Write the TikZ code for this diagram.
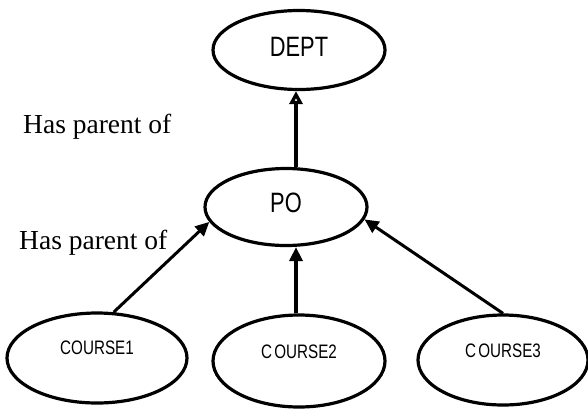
\documentclass[tikz,border=0pt]{standalone}
\usepackage{fontspec}
\setmainfont{Liberation Serif}
\newfontfamily\narrowsf[FakeStretch=0.78]{Liberation Sans}
\usetikzlibrary{shapes.geometric,arrows.meta}
\newcommand\tightspace{\spaceskip=2.2pt\relax}

\begin{document}
\begin{tikzpicture}[x=1pt,y=-1pt,
  entity/.style={ellipse,draw,line width=3.2pt,inner sep=0pt},
  bigname/.style={font=\narrowsf\fontsize{28}{30}\selectfont},
  smallname/.style={font=\narrowsf\fontsize{19.5}{22}\selectfont},
  rel/.style={font=\fontsize{27.5}{30}\selectfont,inner sep=0pt,anchor=base west},
  thicklink/.style={line width=4.5pt},
  thinlink/.style={line width=3pt},
  openhead/.style={-{Triangle[open,length=13pt,width=13pt]}},
  fullhead/.style={-{Triangle[length=14pt,width=13pt]}},
]
\useasboundingbox (0,0) rectangle (588,410);

% entities
\node[entity,bigname,minimum width=172pt,minimum height=79pt] (DEPT) at (299,50)
  {\raisebox{-6pt}[0pt][0pt]{DEPT}};
\node[entity,bigname,minimum width=162pt,minimum height=77pt] (PO) at (286,207)
  {\raisebox{-5pt}[0pt][0pt]{PO}};
\node[entity,smallname,minimum width=180pt,minimum height=90pt] (C1) at (97,358)
  {\raisebox{4pt}[0pt][0pt]{COURSE1}};
\node[entity,smallname,minimum width=172pt,minimum height=92pt] (C2) at (299,361)
  {\raisebox{3pt}[0pt][0pt]{\tightspace C OURSE2}};
\node[entity,smallname,minimum width=170pt,minimum height=90pt] (C3) at (503,360)
  {\raisebox{3pt}[0pt][0pt]{\tightspace C OURSE3}};

% relation labels
\node[rel] (L1) at (23,133) {Has parent of};
\node[rel] (L2) at (19,249) {Has parent of};

% links
\coordinate (x) at (296,0);
\draw[thicklink,openhead] (PO.north -| x) -- (DEPT.south -| x);
\draw[thicklink,fullhead] (C2.north -| x) -- (PO.south -| x);
\draw[thinlink,fullhead] (C1.70) -- (PO.191);
\draw[thinlink,fullhead] (C3.north) -- (PO.-9);
\end{tikzpicture}
\end{document}
